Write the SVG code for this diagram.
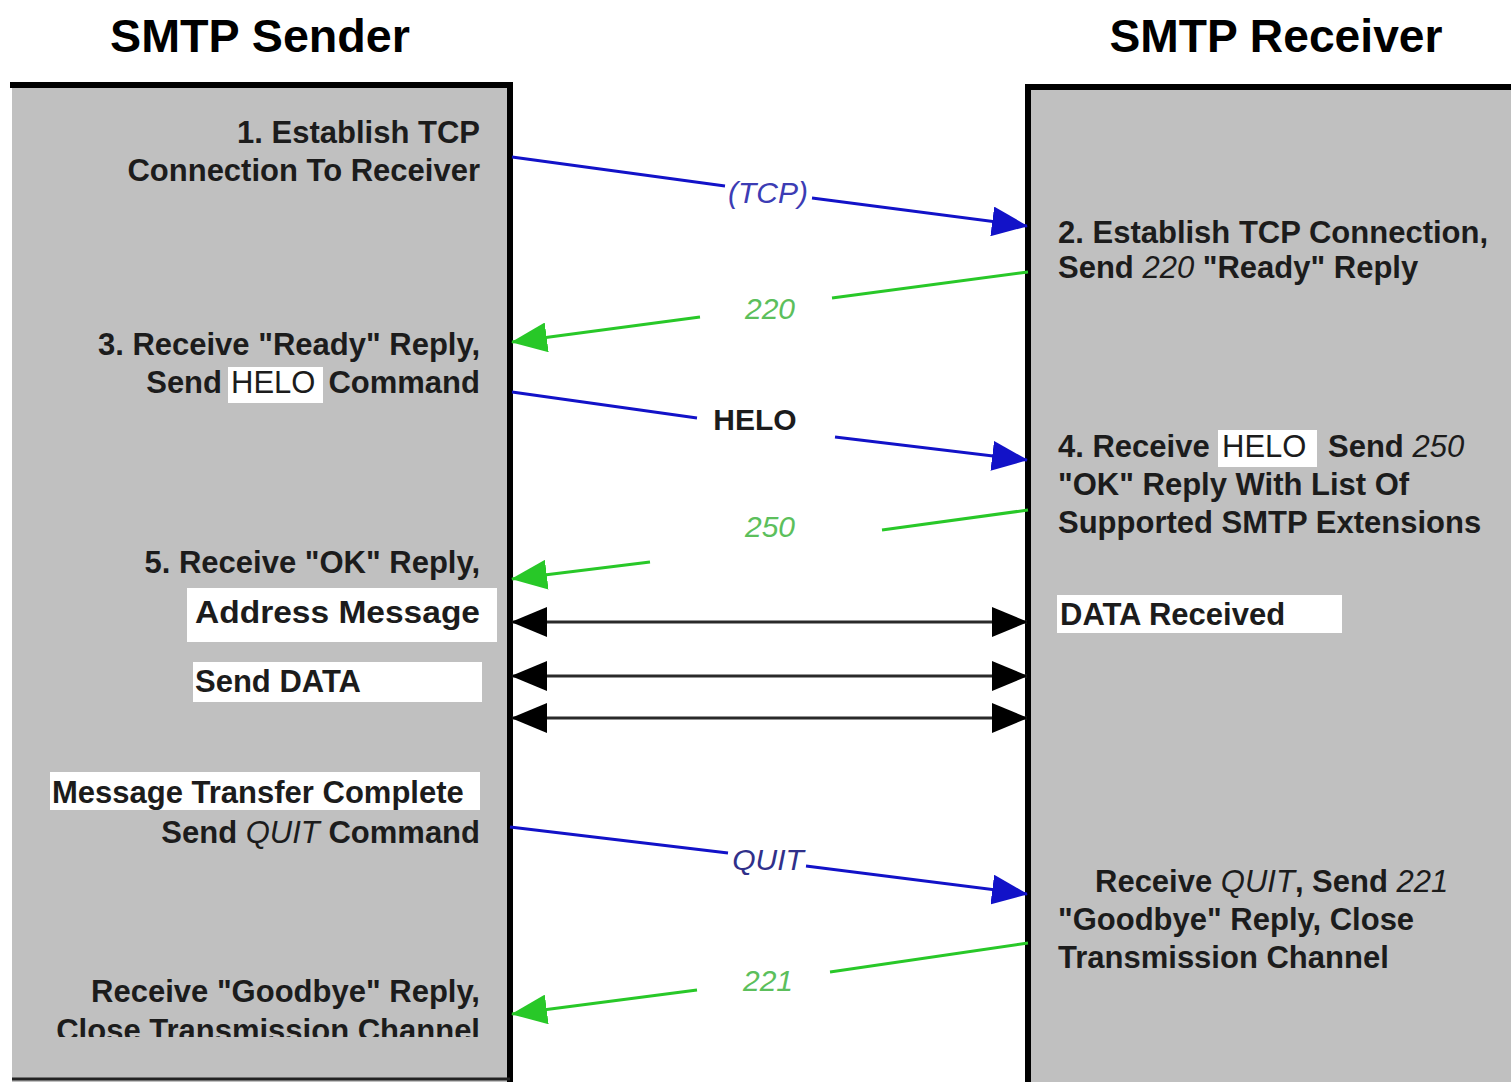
<svg xmlns="http://www.w3.org/2000/svg" width="1511" height="1082" viewBox="0 0 1511 1082">
<style>
.t{font-family:"Liberation Sans",Arial,sans-serif;font-weight:bold;font-size:31px;fill:#1c1c1c}
.title{font-family:"Liberation Sans",Arial,sans-serif;font-weight:bold;font-size:46px;fill:#000}
.reg{font-weight:normal}
.it{font-style:italic;font-weight:normal}
.end{text-anchor:end}
.box{fill:#c0c0c0}
.bd{stroke:#000;stroke-width:6;fill:none}
.wb{fill:#fff}
.blue{stroke:#1212c8;stroke-width:3;fill:none}
.green{stroke:#28c828;stroke-width:3;fill:none}
.blk{stroke:#2a2a2a;stroke-width:3;fill:none}
.lbl{font-family:"Liberation Sans",Arial,sans-serif;font-size:30px}
</style>
<defs>
<marker id="ab" markerUnits="userSpaceOnUse" markerWidth="36" markerHeight="30" refX="35" refY="15" orient="auto"><path d="M0,0 L36,15 L0,30 z" fill="#1212c8"/></marker>
<marker id="ag" markerUnits="userSpaceOnUse" markerWidth="36" markerHeight="30" refX="35" refY="15" orient="auto"><path d="M0,0 L36,15 L0,30 z" fill="#28c828"/></marker>
<marker id="ak" markerUnits="userSpaceOnUse" markerWidth="36" markerHeight="30" refX="35" refY="15" orient="auto-start-reverse"><path d="M0,0 L36,15 L0,30 z" fill="#000"/></marker>
<clipPath id="cl"><rect x="0" y="0" width="1511" height="1037"/></clipPath>
</defs>
<rect x="0" y="0" width="1511" height="1082" fill="#fff"/>

<g id="sender">
<text class="title" x="260" y="52" text-anchor="middle" textLength="300" lengthAdjust="spacingAndGlyphs">SMTP Sender</text>
<rect class="box" x="12" y="84" width="498" height="998"/>
<path class="bd" d="M10,85 H510 V1082"/>
<path d="M12,1079 H510" stroke="#222" stroke-width="3"/>
<text class="t end" x="480" y="143">1. Establish TCP</text>
<text class="t end" x="480" y="181">Connection To Receiver</text>
<text class="t end" x="480" y="355">3. Receive "Ready" Reply,</text>
<rect class="wb" x="228" y="367" width="95" height="36"/>
<text class="t end" x="222" y="393">Send</text>
<text class="t reg" x="231" y="393" font-size="30">HELO</text>
<text class="t end" x="480" y="393">Command</text>
<text class="t end" x="480" y="573">5. Receive "OK" Reply,</text>
<rect class="wb" x="187" y="588" width="310" height="54"/>
<text class="t" x="195" y="623" font-size="33" textLength="285" lengthAdjust="spacingAndGlyphs">Address Message</text>
<rect class="wb" x="193" y="662" width="289" height="40"/>
<text class="t" x="195" y="692">Send DATA</text>
<rect class="wb" x="50" y="772" width="430" height="38"/>
<text class="t" x="52" y="803">Message Transfer Complete</text>
<text class="t end" x="480" y="843">Send <tspan class="it">QUIT</tspan> Command</text>
<text class="t end" x="480" y="1002">Receive "Goodbye" Reply,</text>
<text class="t end" x="480" y="1041" clip-path="url(#cl)">Close Transmission Channel</text>
</g>

<g id="receiver">
<text class="title" x="1276" y="52" text-anchor="middle" textLength="333" lengthAdjust="spacingAndGlyphs">SMTP Receiver</text>
<rect class="box" x="1028" y="86" width="483" height="996"/>
<path class="bd" d="M1028,1082 V87 H1511"/>
<text class="t" x="1058" y="243">2. Establish TCP Connection,</text>
<text class="t" x="1058" y="278">Send <tspan class="it">220</tspan> "Ready" Reply</text>
<rect class="wb" x="1218" y="430" width="99" height="37"/>
<text class="t" x="1058" y="457">4. Receive</text>
<text class="t reg" x="1222" y="457" font-size="30">HELO</text>
<text class="t" x="1328" y="457">Send <tspan class="it">250</tspan></text>
<text class="t" x="1058" y="495">"OK" Reply With List Of</text>
<text class="t" x="1058" y="533">Supported SMTP Extensions</text>
<rect class="wb" x="1057" y="595" width="285" height="38"/>
<text class="t" x="1060" y="625">DATA Received</text>
<text class="t" x="1095" y="892">Receive <tspan class="it">QUIT</tspan>, Send <tspan class="it">221</tspan></text>
<text class="t" x="1058" y="930">"Goodbye" Reply, Close</text>
<text class="t" x="1058" y="968">Transmission Channel</text>
</g>

<g id="connectors">
<path class="blue" d="M512,157 L725,186"/>
<path class="blue" d="M812,198 L1027,226" marker-end="url(#ab)"/>
<text class="lbl it" x="768" y="203" text-anchor="middle" fill="#3c3cb4">(TCP)</text>

<path class="green" d="M1028,272 L832,298"/>
<path class="green" d="M700,317 L512,342" marker-end="url(#ag)"/>
<text class="lbl it" x="770" y="319" text-anchor="middle" fill="#5cbf5c">220</text>

<path class="blue" d="M512,392 L697,418"/>
<path class="blue" d="M835,437 L1027,460" marker-end="url(#ab)"/>
<text class="lbl" x="755" y="430" text-anchor="middle" font-weight="bold" fill="#1c1c1c">HELO</text>

<path class="green" d="M1028,510 L882,530"/>
<path class="green" d="M650,562 L512,579" marker-end="url(#ag)"/>
<text class="lbl it" x="770" y="537" text-anchor="middle" fill="#5cbf5c">250</text>

<path class="blk" d="M512,622 H1027" marker-start="url(#ak)" marker-end="url(#ak)"/>
<path class="blk" d="M512,676 H1027" marker-start="url(#ak)" marker-end="url(#ak)"/>
<path class="blk" d="M512,718 H1027" marker-start="url(#ak)" marker-end="url(#ak)"/>

<path class="blue" d="M510,827 L728,853"/>
<path class="blue" d="M806,866 L1027,894" marker-end="url(#ab)"/>
<text class="lbl it" x="768" y="870" text-anchor="middle" fill="#30308a">QUIT</text>

<path class="green" d="M1028,943 L830,972"/>
<path class="green" d="M697,990 L512,1014" marker-end="url(#ag)"/>
<text class="lbl it" x="768" y="991" text-anchor="middle" fill="#5cbf5c">221</text>
</g>
</svg>
